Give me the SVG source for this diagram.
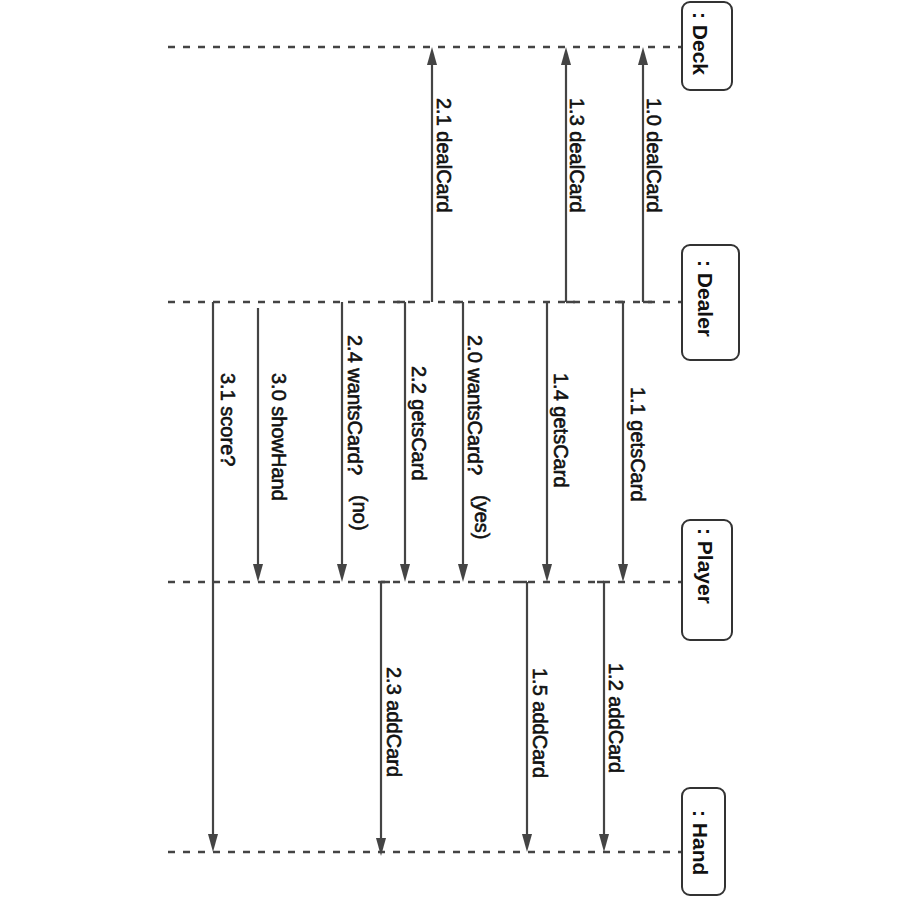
<svg xmlns="http://www.w3.org/2000/svg" width="900" height="900" viewBox="0 0 900 900">
<style>
.life{stroke:#444;stroke-width:2.5;stroke-dasharray:7 8;fill:none}
.box{fill:#fff;stroke:#333;stroke-width:2}
.bl{font-family:"Liberation Sans",Arial,sans-serif;font-size:21px;font-weight:bold;fill:#111}
.msg{stroke:#444;stroke-width:2.2;fill:none}
.foot{stroke:#444;stroke-width:2.5;fill:none}
.lb{font-family:"Liberation Sans",Arial,sans-serif;font-size:20px;fill:#111;stroke:#111;stroke-width:0.6}
</style>
<defs>
<marker id="ah" markerUnits="userSpaceOnUse" markerWidth="18" markerHeight="10" refX="8" refY="5" orient="auto" viewBox="0 0 18 10">
<path d="M0,0 L18,5 L0,10 Z" fill="#444"/>
</marker>
</defs>
<rect width="900" height="900" fill="#fff"/>
<g id="lifelines">
<line class="life" x1="168" y1="47" x2="682" y2="47"/>
<line class="life" x1="168" y1="302" x2="682" y2="302"/>
<line class="life" x1="168" y1="582" x2="682" y2="582"/>
<line class="life" x1="168" y1="852" x2="682" y2="852"/>
</g>
<g id="deck"><rect class="box" x="682" y="2" width="50" height="88" rx="8"/><text class="bl" transform="translate(693,12) rotate(90)">: Deck</text></g>
<g id="dealer"><rect class="box" x="682" y="245" width="57" height="115" rx="8"/><text class="bl" transform="translate(698,260) rotate(90)">: Dealer</text></g>
<g id="player"><rect class="box" x="682" y="520" width="50" height="120" rx="8"/><text class="bl" transform="translate(698,528) rotate(90)">: Player</text></g>
<g id="hand"><rect class="box" x="682" y="788" width="43" height="107" rx="8"/><text class="bl" transform="translate(693,810) rotate(90)">: Hand</text></g>
<g id="connectors">
<line class="msg" x1="643" y1="302" x2="643" y2="57" marker-end="url(#ah)"/>
<path class="foot" d="M643,302 H652"/>
<line class="msg" x1="566" y1="302" x2="566" y2="57" marker-end="url(#ah)"/>
<path class="foot" d="M566,302 H575"/>
<line class="msg" x1="432" y1="302" x2="432" y2="57" marker-end="url(#ah)"/>
<line class="msg" x1="623" y1="302" x2="623" y2="572" marker-end="url(#ah)"/>
<path class="foot" d="M615,302 H623"/>
<line class="msg" x1="547" y1="302" x2="547" y2="572" marker-end="url(#ah)"/>
<line class="msg" x1="463" y1="302" x2="463" y2="572" marker-end="url(#ah)"/>
<path class="foot" d="M455,302 H463"/>
<line class="msg" x1="405" y1="302" x2="405" y2="572" marker-end="url(#ah)"/>
<path class="foot" d="M397,302 H405"/>
<line class="msg" x1="342" y1="302" x2="342" y2="572" marker-end="url(#ah)"/>
<line class="msg" x1="258" y1="308" x2="258" y2="572" marker-end="url(#ah)"/>
<line class="msg" x1="213" y1="302" x2="213" y2="842" marker-end="url(#ah)"/>
<line class="msg" x1="604" y1="582" x2="604" y2="842" marker-end="url(#ah)"/>
<path class="foot" d="M597,582 H604"/>
<line class="msg" x1="527" y1="582" x2="527" y2="842" marker-end="url(#ah)"/>
<path class="foot" d="M520,582 H527"/>
<line class="msg" x1="381" y1="582" x2="381" y2="846" marker-end="url(#ah)"/>
<path class="foot" d="M381,582 H390"/>
</g>
<g id="labels">
<text class="lb" transform="translate(647,98) rotate(90)">1.0 dealCard</text>
<text class="lb" transform="translate(570,98) rotate(90)">1.3 dealCard</text>
<text class="lb" transform="translate(437,98) rotate(90)">2.1 dealCard</text>
<text class="lb" transform="translate(631,387) rotate(90)">1.1 getsCard</text>
<text class="lb" transform="translate(554,373) rotate(90)">1.4 getsCard</text>
<text class="lb" transform="translate(468,335) rotate(90)">2.0 wantsCard?<tspan x="160" y="-7">(yes)</tspan></text>
<text class="lb" transform="translate(412,366) rotate(90)">2.2 getsCard</text>
<text class="lb" transform="translate(348,335) rotate(90)">2.4 wantsCard?<tspan x="160" y="-5">(no)</tspan></text>
<text class="lb" transform="translate(272,373) rotate(90)">3.0 showHand</text>
<text class="lb" transform="translate(221,373) rotate(90)">3.1 score?</text>
<text class="lb" transform="translate(609,663) rotate(90)">1.2 addCard</text>
<text class="lb" transform="translate(533,668) rotate(90)">1.5 addCard</text>
<text class="lb" transform="translate(387,667) rotate(90)">2.3 addCard</text>
</g>
</svg>
